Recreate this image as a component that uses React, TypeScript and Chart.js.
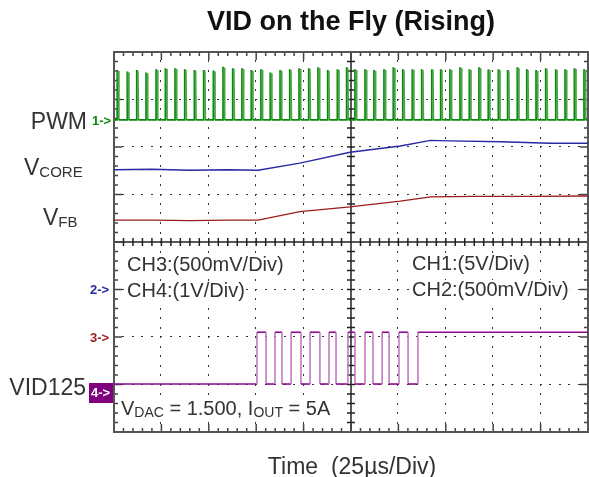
import React, { useEffect, useRef } from "react";
import { Chart, registerables } from "chart.js";

Chart.register(...registerables);

// Time axis: 10 divisions x 25 µs ; vertical axis in screen divisions (0..8)
const TIME_MAX = 250;
const DIV_X = 10;
const DIV_Y = 8;

// CH1 PWM: pulse start times (µs) and pulse top level (div)
const pwmPulseTimes = [
  1.7, 7.0, 12.0, 16.9, 22.2, 27.1, 32.2, 37.3, 42.4, 47.3, 52.4, 57.5, 62.6,
  67.5, 72.4, 77.5, 82.4, 87.6, 92.7, 97.6, 102.7, 107.6, 112.7, 117.8, 122.7,
  127.1, 132.4, 137.1, 142.4, 147.3, 152.3, 157.3, 162.3, 167.6, 172.3, 177.2,
  182.5, 187.4, 192.5, 197.4, 202.7, 207.6, 212.7, 217.7, 222.6, 227.7, 233.0,
  237.9, 242.8, 247.9,
];
const pwmPulseTops = [
  7.6, 7.57, 7.6, 7.55, 7.62, 7.64, 7.64, 7.62, 7.6, 7.6, 7.59, 7.67, 7.64,
  7.64, 7.6, 7.62, 7.55, 7.6, 7.62, 7.64, 7.64, 7.66, 7.6, 7.62, 7.66,
  7.62, 7.62, 7.6, 7.62, 7.66, 7.62, 7.62, 7.62, 7.62, 7.62, 7.62, 7.66, 7.62,
  7.66, 7.62, 7.62, 7.6, 7.66, 7.62, 7.6, 7.64, 7.62, 7.62, 7.64, 7.62,
];
const PWM_LOW = 6.57;

// CH2 VCORE (div)
const vcoreTimes = [0, 20, 40, 60, 76, 98, 124.5, 151, 167, 177, 204, 230, 250];
const vcoreLevels = [5.52, 5.53, 5.51, 5.52, 5.51, 5.66, 5.89, 6.02, 6.14, 6.13, 6.11, 6.08, 6.08];

// CH3 VFB (div)
const vfbTimes = [0, 20, 40, 60, 76, 98, 124.5, 151, 167, 190, 220, 250];
const vfbLevels = [4.46, 4.46, 4.45, 4.46, 4.46, 4.64, 4.74, 4.86, 4.95, 4.96, 4.96, 4.97];

// CH4 VID125: edge times (µs), alternating low->high, high->low ...
const vidEdgeTimes = [
  75.4, 80.2, 84.9, 88.6, 93.4, 98.6, 103.4, 108.6, 113.4, 117.1, 123.4, 127.1,
  132.4, 136.6, 141.4, 145.1, 150.3, 155.1, 160.3,
];
const VID_LOW = 1.01;
const VID_HIGH = 2.1;

const GREEN = "#0b880b";
const GREEN_EDGE = "#48a848";
const BLUE = "#2828a4";
const RED = "#9a1c1c";
const PURPLE = "#8a0a8a";
const PURPLE_EDGE = "#c27ac2";

function buildPwm() {
  const pts: { x: number; y: number }[] = [{ x: 0, y: PWM_LOW }];
  pwmPulseTimes.forEach((t, i) => {
    pts.push({ x: t, y: PWM_LOW });
    pts.push({ x: t + 0.02, y: pwmPulseTops[i] });
    pts.push({ x: t + 0.6, y: pwmPulseTops[i] });
    pts.push({ x: t + 0.85, y: PWM_LOW });
  });
  pts.push({ x: TIME_MAX, y: PWM_LOW });
  return pts;
}

function buildVid() {
  const pts: { x: number; y: number }[] = [{ x: 0, y: VID_LOW }];
  let level = VID_LOW;
  vidEdgeTimes.forEach((t) => {
    pts.push({ x: t, y: level });
    level = level === VID_LOW ? VID_HIGH : VID_LOW;
    pts.push({ x: t, y: level });
  });
  pts.push({ x: TIME_MAX, y: level });
  return pts;
}

const zip = (xs: number[], ys: number[]) => xs.map((x, i) => ({ x, y: ys[i] }));

const F = '"Liberation Sans", Arial, sans-serif';

const scopePlugin = {
  id: "scope",
  beforeDatasetsDraw(chart: any) {
    const { ctx, chartArea: a } = chart;
    const w = a.right - a.left;
    const h = a.bottom - a.top;
    const px = (d: number) => a.left + (d * w) / DIV_X;
    const py = (d: number) => a.bottom - (d * h) / DIV_Y;
    ctx.save();
    // dotted grid
    ctx.fillStyle = "#333";
    for (let i = 1; i < DIV_X; i++) {
      if (i === 5) continue;
      for (let j = 1; j < DIV_Y * 5; j++) {
        ctx.fillRect(Math.round(px(i)) - 1, Math.round(py(j * 0.2)) - 1, 1, 2);
      }
    }
    for (let j = 1; j < DIV_Y; j++) {
      if (j === 4) continue;
      for (let i = 1; i < DIV_X * 5; i++) {
        ctx.fillRect(Math.round(px(i * 0.2)) - 1, Math.round(py(j)) - 1, 2, 1);
      }
    }
    // white boxes behind annotations
    ctx.fillStyle = "#fff";
    ctx.font = `20px ${F}`;
    const boxes: [string, number, number][] = [
      ["CH3:(500mV/Div)", 127, 271],
      ["CH4:(1V/Div)", 127, 297],
      ["CH1:(5V/Div)", 412, 270],
      ["CH2:(500mV/Div)", 412, 296],
    ];
    boxes.forEach(([t, x, y]) => {
      const tw = ctx.measureText(t).width;
      ctx.fillRect(x - 1, y - 16, tw + 2, 21);
    });
    ctx.fillRect(120, 399, 216, 22);
    // center crosshair
    ctx.strokeStyle = "#222";
    ctx.lineWidth = 1.5;
    ctx.beginPath();
    ctx.moveTo(px(5), a.top);
    ctx.lineTo(px(5), a.bottom);
    ctx.moveTo(a.left, py(4));
    ctx.lineTo(a.right, py(4));
    for (let i = 1; i < DIV_X * 5; i++) {
      const xx = px(i * 0.2);
      ctx.moveTo(xx, py(4) - 4);
      ctx.lineTo(xx, py(4) + 4);
    }
    for (let j = 1; j < DIV_Y * 5; j++) {
      const yy = py(j * 0.2);
      ctx.moveTo(px(5) - 4, yy);
      ctx.lineTo(px(5) + 4, yy);
    }
    ctx.stroke();
    // frame ticks
    ctx.strokeStyle = "#444";
    ctx.lineWidth = 1.5;
    ctx.beginPath();
    for (let i = 1; i < DIV_X * 5; i++) {
      const xx = px(i * 0.2);
      const len = i % 5 === 0 ? 8 : 4;
      ctx.moveTo(xx, a.top);
      ctx.lineTo(xx, a.top + len);
      ctx.moveTo(xx, a.bottom);
      ctx.lineTo(xx, a.bottom - len);
    }
    for (let j = 1; j < DIV_Y * 5; j++) {
      const yy = py(j * 0.2);
      const len = j % 5 === 0 ? 8 : 4;
      ctx.moveTo(a.left, yy);
      ctx.lineTo(a.left + len, yy);
      ctx.moveTo(a.right, yy);
      ctx.lineTo(a.right - len, yy);
    }
    ctx.stroke();
    // frame
    ctx.strokeStyle = "#555";
    ctx.lineWidth = 2;
    ctx.strokeRect(a.left, a.top, w, h);
    ctx.restore();
  },
  afterDraw(chart: any) {
    const { ctx, chartArea: a } = chart;
    const h = a.bottom - a.top;
    const py = (d: number) => a.bottom - (d * h) / DIV_Y;
    ctx.save();
    ctx.textBaseline = "alphabetic";
    // title
    ctx.fillStyle = "#111";
    ctx.font = `bold 27px ${F}`;
    ctx.textAlign = "center";
    ctx.fillText("VID on the Fly (Rising)", 351, 30);
    // x label
    ctx.fillStyle = "#333";
    ctx.font = `23px ${F}`;
    ctx.fillText("Time  (25\u00b5s/Div)", 352, 474);

    // left labels
    ctx.fillStyle = "#333";
    ctx.textAlign = "right";
    ctx.font = `23px ${F}`;
    ctx.fillText("PWM", 87, 129);
    ctx.fillText("VID125", 86, 395);
    const sub = (x: number, yb: number, main: string, s: string, size: number, ssize: number) => {
      ctx.textAlign = "left";
      ctx.font = `${size}px ${F}`;
      ctx.fillText(main, x, yb);
      const mw = ctx.measureText(main).width;
      ctx.font = `${ssize}px ${F}`;
      ctx.fillText(s, x + mw, yb + 2);
      return x + mw + ctx.measureText(s).width;
    };
    sub(24, 175, "V", "CORE", 23, 15);
    sub(43, 225, "V", "FB", 23, 15);

    // channel markers
    ctx.font = `bold 13px ${F}`;
    ctx.textAlign = "left";
    ctx.textBaseline = "middle";
    ctx.fillStyle = GREEN;
    ctx.fillText("1->", 92, py(PWM_LOW) + 1);
    ctx.fillStyle = BLUE;
    ctx.fillText("2->", 90, py(3) + 1);
    ctx.fillStyle = RED;
    ctx.fillText("3->", 90, py(2) + 1);
    ctx.fillStyle = "#800080";
    ctx.fillRect(89, 383, 24, 20);
    ctx.fillStyle = "#fff";
    ctx.fillText("4->", 91, 393);

    // in-plot annotations
    ctx.textBaseline = "alphabetic";
    ctx.fillStyle = "#333";
    ctx.font = `20px ${F}`;
    ctx.fillText("CH3:(500mV/Div)", 127, 271);
    ctx.fillText("CH4:(1V/Div)", 127, 297);
    ctx.fillText("CH1:(5V/Div)", 412, 270);
    ctx.fillText("CH2:(500mV/Div)", 412, 296);

    let x = sub(121, 415, "V", "DAC", 20, 14);
    ctx.font = `20px ${F}`;
    const s1 = " = 1.500, I";
    ctx.fillText(s1, x, 415);
    x += ctx.measureText(s1).width;
    ctx.font = `14px ${F}`;
    ctx.fillText("OUT", x, 417);
    x += ctx.measureText("OUT").width;
    ctx.font = `20px ${F}`;
    ctx.fillText(" = 5A", x, 415);
    ctx.restore();
  },
};

const edgeColor = (normal: string, edge: string, fallingOnly: boolean) => (c: any) => {
  const dx = Math.abs(c.p1.parsed.x - c.p0.parsed.x);
  const dy = c.p1.parsed.y - c.p0.parsed.y;
  if (dx < 0.3 && Math.abs(dy) > 0.2) {
    if (!fallingOnly || dy < 0) return edge;
  }
  return normal;
};

export default function App() {
  const ref = useRef<HTMLCanvasElement | null>(null);
  useEffect(() => {
    document.body.style.margin = "0";
    const canvas = ref.current!;
    const chart = new Chart(canvas, {
      type: "line",
      data: {
        datasets: [
          {
            data: buildPwm(),
            borderColor: GREEN,
            borderWidth: 1.8,
            segment: { borderColor: edgeColor(GREEN, GREEN_EDGE, true) },
          },
          { data: zip(vcoreTimes, vcoreLevels), borderColor: BLUE, borderWidth: 1.4 },
          { data: zip(vfbTimes, vfbLevels), borderColor: RED, borderWidth: 1.4 },
          {
            data: buildVid(),
            borderColor: PURPLE,
            borderWidth: 1.6,
            segment: { borderColor: edgeColor(PURPLE, PURPLE_EDGE, false) },
          },
        ] as any,
      },
      options: {
        animation: false,
        responsive: false,
        devicePixelRatio: 1,
        parsing: false,
        layout: { padding: { left: 114, top: 52, right: 1, bottom: 45 } },
        elements: { point: { radius: 0 }, line: { tension: 0 } },
        plugins: { legend: { display: false }, tooltip: { enabled: false }, title: { display: false } },
        scales: {
          x: { type: "linear", min: 0, max: TIME_MAX, display: false },
          y: { type: "linear", min: 0, max: DIV_Y, display: false },
        },
      },
      plugins: [scopePlugin],
    } as any);
    return () => chart.destroy();
  }, []);
  return (
    <div style={{ width: 589, height: 477, background: "#fff" }}>
      <canvas ref={ref} width={589} height={477} style={{ display: "block" }} />
    </div>
  );
}
